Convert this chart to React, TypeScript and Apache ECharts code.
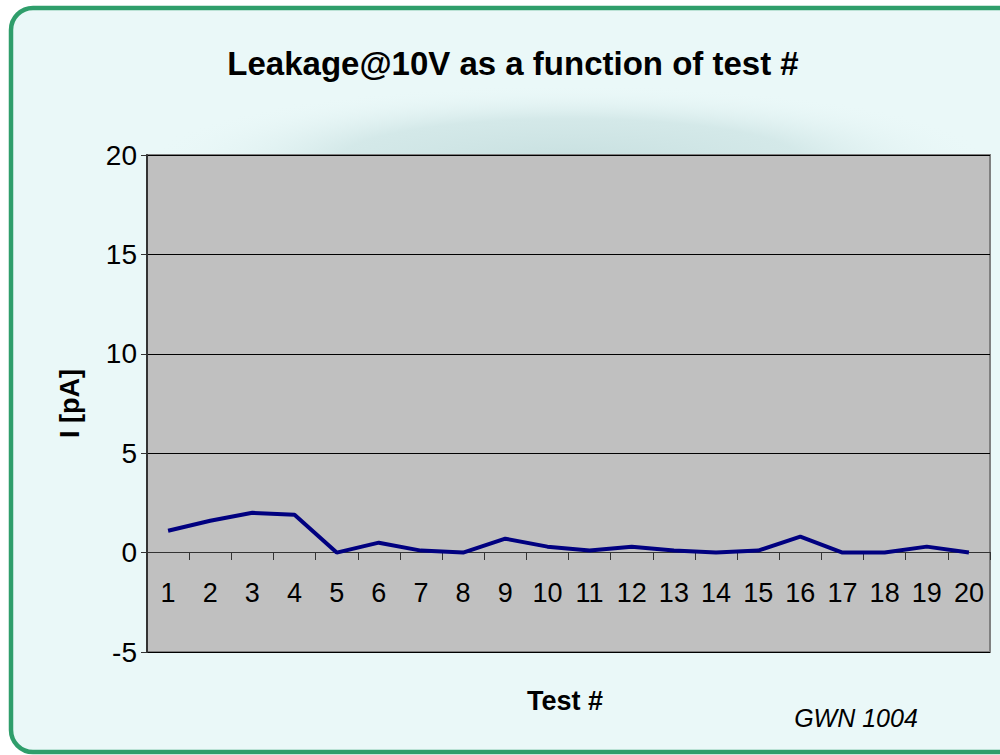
import React, { useEffect, useRef } from "react";
import * as echarts from "echarts";

const categories = ["1","2","3","4","5","6","7","8","9","10","11","12","13","14","15","16","17","18","19","20"];
const leakage = [1.1, 1.6, 2.0, 1.9, 0, 0.5, 0.1, 0, 0.7, 0.3, 0.1, 0.3, 0.1, 0, 0.1, 0.8, 0, 0, 0.3, 0];
const yTicks = { min: -5, max: 20, interval: 5 };

const FONT = "'Liberation Sans', Arial, sans-serif";

export default function App() {
  const ref = useRef<HTMLDivElement>(null);
  useEffect(() => {
    const chart = echarts.init(ref.current!, null, { renderer: "svg" });
    chart.setOption({
      animation: false,
      backgroundColor: "#ffffff",
      graphic: [
        {
          type: "rect",
          z: -10,
          silent: true,
          shape: { x: 11, y: 8, width: 1010, height: 744, r: 22 },
          style: { fill: "#eaf8f8", stroke: "#2f9e6b", lineWidth: 4.5 },
        },
        {
          type: "rect",
          z: -9,
          silent: true,
          shape: { x: 150, y: 85, width: 840, height: 150 },
          style: {
            fill: new echarts.graphic.RadialGradient(0.5, 0.5, 0.5, [
              { offset: 0, color: "rgba(200,224,224,1)" },
              { offset: 0.55, color: "rgba(208,230,230,0.85)" },
              { offset: 1, color: "rgba(234,248,248,0)" },
            ]),
          },
        },
        {
          type: "text",
          x: 513,
          y: 63,
          style: {
            text: "Leakage@10V as a function of test #",
            font: "bold 33px " + FONT,
            fill: "#000",
            textAlign: "center",
            textVerticalAlign: "middle",
          },
        },
        {
          type: "text",
          x: 565,
          y: 701,
          style: {
            text: "Test #",
            font: "bold 27px " + FONT,
            fill: "#000",
            textAlign: "center",
            textVerticalAlign: "middle",
          },
        },
        {
          type: "text",
          x: 856,
          y: 718,
          style: {
            text: "GWN 1004",
            font: "italic 25px " + FONT,
            fill: "#000",
            textAlign: "center",
            textVerticalAlign: "middle",
          },
        },
      ],
      grid: {
        left: 147,
        right: 10,
        top: 155,
        bottom: 103,
        show: true,
        backgroundColor: "#c0c0c0",
        borderColor: "#808080",
        borderWidth: 2,
      },
      xAxis: {
        type: "category",
        data: categories,
        boundaryGap: true,
        offset: -100,
        axisLine: { onZero: false, lineStyle: { color: "#333", width: 1 } },
        axisTick: { show: true, length: 8, inside: false, lineStyle: { color: "#333" } },
        axisLabel: { margin: 27, fontFamily: FONT, fontSize: 27, color: "#000", interval: 0 },
        splitLine: { show: false },
      },
      yAxis: {
        type: "value",
        min: yTicks.min,
        max: yTicks.max,
        interval: yTicks.interval,
        name: "I [pA]",
        nameLocation: "middle",
        nameGap: 64,
        nameTextStyle: { fontFamily: FONT, fontSize: 27, fontWeight: "bold", color: "#000" },
        axisLine: { show: true, lineStyle: { color: "#333", width: 2 } },
        axisTick: { show: true, length: 6, lineStyle: { color: "#333" } },
        axisLabel: { margin: 10, fontFamily: FONT, fontSize: 28, color: "#000" },
        splitLine: { show: true, lineStyle: { color: "#000", width: 1 } },
      },
      series: [
        {
          type: "line",
          data: leakage,
          showSymbol: false,
          symbol: "none",
          lineStyle: { color: "#000080", width: 4 },
        },
      ],
    });
    return () => chart.dispose();
  }, []);
  return (
    <div
      ref={ref}
      style={{ position: "absolute", left: 0, top: 0, width: 1000, height: 755 }}
    />
  );
}
